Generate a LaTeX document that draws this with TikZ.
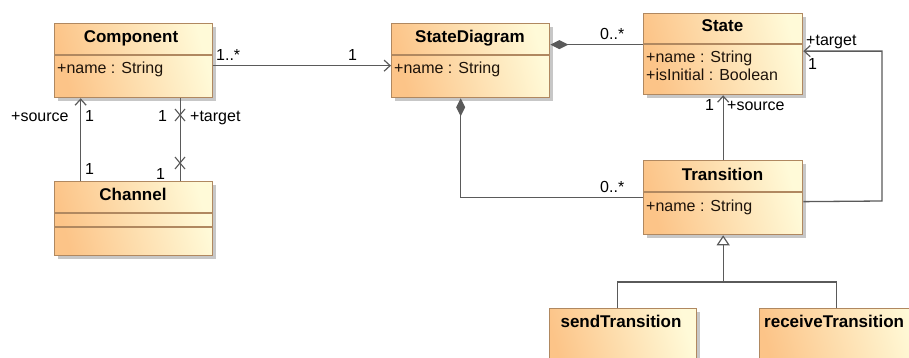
\documentclass[tikz,border=0pt]{standalone}
\usepackage{fontspec}
\setmainfont{Liberation Sans}
\usetikzlibrary{arrows.meta,shadows,calc}
\definecolor{umlA}{RGB}{252,196,136}
\definecolor{umlB}{RGB}{255,250,216}
\definecolor{umlBorder}{RGB}{176,136,96}
\definecolor{umlLine}{RGB}{90,90,90}
\tikzset{
  cls/.style={draw=umlBorder, line width=1.3pt, top color=umlB, bottom color=umlA,
    shading angle=-75, anchor=north west, inner sep=0pt,
    minimum width=158pt, minimum height=74pt,
    drop shadow={shadow xshift=3pt, shadow yshift=-3pt, fill=black, opacity=0.22}},
  div/.style={draw=umlBorder, line width=1.3pt},
  ttl/.style={font=\fontsize{17}{20}\selectfont\bfseries, anchor=base, inner sep=0pt},
  attr/.style={font=\fontsize{16}{19}\selectfont, anchor=base west, inner sep=0pt, text=black!85!brown},
  lbl/.style={font=\fontsize{16}{19}\selectfont, anchor=base west, inner sep=0pt},
  conn/.style={draw=umlLine, line width=1.3pt},
  nav/.style={-{Straight Barb[length=6pt,width=11pt,line width=1.2pt]}},
  compo/.style={{Diamond[length=18pt,width=9pt,fill=umlLine]}-},
  genz/.style={-{Triangle[open,length=10pt,width=13pt,fill=white,line width=1.2pt]}},
  xmark/.style={draw=umlLine, line width=1.1pt}
}
\begin{document}
\begin{tikzpicture}[x=1pt,y=-1pt]
\useasboundingbox (0,0) rectangle (909,358);
\clip (0,0) rectangle (909,358);
\fill[white] (0,0) rectangle (909,358);

% ---- classes
\node[cls] (comp) at (54,23) {};
\draw[div] ([yshift=-32pt]comp.north west) -- ([yshift=-32pt]comp.north east);
\node[ttl] (compT) at (131,43) {Component};
\node[attr] (compA) at (57,74) {+name : String};

\node[cls] (chan) at (54,181) {};
\draw[div] ([yshift=-32pt]chan.north west) -- ([yshift=-32pt]chan.north east);
\draw[div] ([yshift=-46pt]chan.north west) -- ([yshift=-46pt]chan.north east);
\node[ttl] (chanT) at (133,200) {Channel};

\node[cls] (sd) at (391,23) {};
\draw[div] ([yshift=-32pt]sd.north west) -- ([yshift=-32pt]sd.north east);
\node[ttl] (sdT) at (470,43) {StateDiagram};
\node[attr] (sdA) at (394,74) {+name : String};

\node[cls, minimum width=159pt, minimum height=81pt] (state) at (643,13) {};
\draw[div] ([yshift=-31pt]state.north west) -- ([yshift=-31pt]state.north east);
\node[ttl] (stateT) at (722.5,32) {State};
\node[attr] (stateA) at (646,63) {+name : String};
\node[attr] (stateB) at (646,81) {+isInitial : Boolean};

\node[cls, minimum width=159pt] (trans) at (643,160) {};
\draw[div] ([yshift=-32pt]trans.north west) -- ([yshift=-32pt]trans.north east);
\node[ttl] (transT) at (722.5,180) {Transition};
\node[attr] (transA) at (646,211) {+name : String};

\node[cls, minimum width=147pt] (send) at (549,308) {};
\node[ttl] (sendT) at (621,327) {sendTransition};

\node[cls, minimum width=165pt] (recv) at (759,308) {};
\node[ttl, anchor=base west] (recvT) at (764,327) {receiveTransition};

% ---- connectors
\draw[conn,nav] ([yshift=-5pt]comp.east) -- ([yshift=-5pt]sd.west);
\node[lbl] (l1) at (216,61) {1..*};
\node[lbl] (l2) at (348,61) {1};

\draw[conn,compo] ([yshift=16pt]sd.east) -- ([yshift=9.5pt]state.west);
\node[lbl] (l3) at (600,40) {0..*};

\draw[conn,compo] ([xshift=-10pt]sd.south) |- (trans.west);
\node[lbl] (l4) at (600,193) {0..*};

\draw[conn,nav] (trans.north) -- (state.south);
\node[lbl] (l5) at (705,111) {1};
\node[lbl] (l6) at (727,111) {+source};

\coordinate (tr) at (882,201);
\draw[conn,nav] ([yshift=-4pt]trans.east) -- (tr) |- ([yshift=3pt]state.east);
\node[lbl] (l7) at (806,46) {+target};
\node[lbl] (l8) at (808,70) {1};

\draw[conn,nav] ([xshift=-53pt]chan.north) -- ([xshift=-53pt]comp.south);
\node[lbl] (l9) at (11,122) {+source};
\node[lbl] (l10) at (85,122) {1};
\node[lbl] (l11) at (85,175) {1};

\draw[conn] ([xshift=47pt]comp.south) -- ([xshift=47pt]chan.north);
\coordinate (xa) at (180,115);
\coordinate (xb) at (180,163);
\draw[xmark] (xa) ++(-5,-6) -- ++(10,12) (xa) ++(5,-6) -- ++(-10,12);
\draw[xmark] (xb) ++(-5,-6) -- ++(10,12) (xb) ++(5,-6) -- ++(-10,12);
\node[lbl] (l12) at (158,122) {1};
\node[lbl] (l13) at (190,122) {+target};
\node[lbl] (l14) at (156,179) {1};

\coordinate (gj) at (trans.south |- 0,282);
\draw[conn] ([xshift=-5.5pt]send.north) |- (gj);
\draw[conn] ([xshift=-5.5pt]recv.north) |- (gj);
\draw[conn,genz] (gj) -- (trans.south);
\end{tikzpicture}
\end{document}
